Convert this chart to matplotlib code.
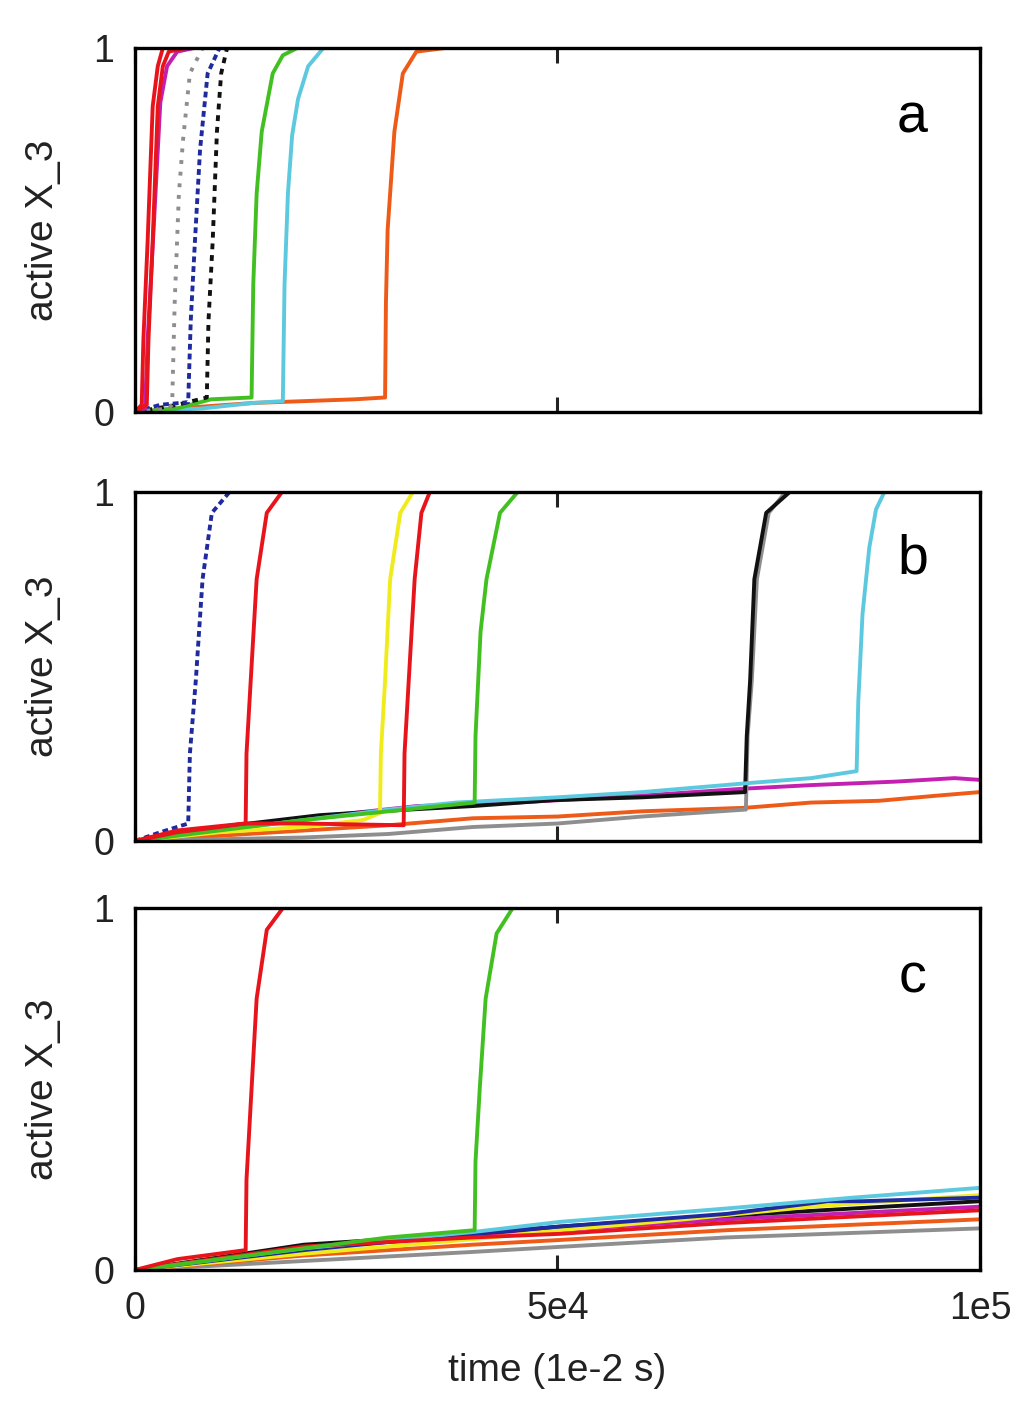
import matplotlib
matplotlib.use("Agg")
import matplotlib.pyplot as plt

plt.rcParams['font.family'] = ['Liberation Sans', 'DejaVu Sans']

# colours of the runs
RED = '#e8141c'
MAGENTA = '#c41fb0'
GRAY = '#8e8e8e'
BLUE = '#1f2a9e'
BLACK = '#111111'
GREEN = '#43c021'
CYAN = '#5cc9df'
ORANGE = '#ee5a17'
YELLOW = '#f0ec1c'

# ---- panel a: runs, time (1e-2 s) and active X_3 ----
a_red1_t = [0, 800, 1000, 1500, 2100, 2700, 3300, 5000]
a_red1_y = [0, 0.02, 0.2, 0.47, 0.84, 0.95, 1.0, 1.0]
a_red2_t = [0, 1400, 1600, 2100, 2700, 3300, 4000, 6000]
a_red2_y = [0, 0.02, 0.2, 0.47, 0.84, 0.95, 0.99, 1.0]
a_mag_t = [0, 1200, 1500, 2200, 3000, 3800, 5000, 7000]
a_mag_y = [0, 0.01, 0.2, 0.5, 0.85, 0.95, 0.99, 1.0]
a_gray_t = [0, 4000, 4400, 4700, 5200, 5700, 6500, 8000]
a_gray_y = [0, 0.01, 0.02, 0.3, 0.6, 0.75, 0.93, 1.0]
a_blue_t = [0, 3000, 6300, 6600, 7100, 7700, 8600, 10000]
a_blue_y = [0, 0.02, 0.027, 0.25, 0.47, 0.72, 0.93, 1.0]
a_black_t = [0, 5000, 8500, 8700, 9200, 9700, 10200, 10900]
a_black_y = [0, 0.02, 0.04, 0.25, 0.47, 0.77, 0.93, 1.0]
a_green_t = [0, 5000, 9000, 13800, 14000, 14400, 15000, 16300, 17500, 19200]
a_green_y = [0, 0.01, 0.035, 0.04, 0.35, 0.6, 0.77, 0.93, 0.98, 1.0]
a_cyan_t = [0, 8000, 14000, 17500, 17700, 18100, 18600, 19300, 20500, 22300]
a_cyan_y = [0, 0.01, 0.025, 0.03, 0.35, 0.6, 0.76, 0.86, 0.95, 1.0]
a_orange_t = [0, 5000, 14000, 20000, 26000, 29600, 29700, 29900, 30700, 31700, 33300, 36700]
a_orange_y = [0, 0.01, 0.025, 0.03, 0.035, 0.04, 0.3, 0.5, 0.77, 0.93, 0.99, 1.0]

# ---- panel b ----
b_orange_t = [0, 10000, 20000, 30000, 40000, 50000, 60000, 72200, 80000, 88000, 95000, 100000]
b_orange_y = [0, 0.015, 0.03, 0.045, 0.065, 0.07, 0.085, 0.095, 0.11, 0.115, 0.13, 0.14]
b_mag_t = [0, 10000, 20000, 33400, 45000, 60000, 72200, 80000, 90000, 97000, 100000]
b_mag_y = [0, 0.035, 0.065, 0.1, 0.11, 0.13, 0.15, 0.16, 0.17, 0.18, 0.175]
b_gray_t = [0, 10000, 20000, 30000, 40000, 50000, 60000, 72300, 72500, 73000, 73600, 75000, 77000]
b_gray_y = [0, 0.005, 0.01, 0.02, 0.04, 0.05, 0.07, 0.09, 0.3, 0.46, 0.75, 0.94, 1.0]
b_black_t = [0, 10000, 21900, 31700, 40000, 49500, 60000, 72200, 72400, 72800, 73300, 74700, 77500]
b_black_y = [0, 0.04, 0.074, 0.089, 0.1, 0.117, 0.125, 0.14, 0.3, 0.46, 0.75, 0.94, 1.0]
b_cyan_t = [0, 10000, 20000, 30000, 38000, 50000, 60000, 72200, 80000, 85400, 85600, 86100, 86900, 87700, 88700]
b_cyan_y = [0, 0.03, 0.06, 0.09, 0.11, 0.125, 0.14, 0.165, 0.18, 0.2, 0.4, 0.65, 0.84, 0.95, 1.0]
b_blue_t = [0, 3000, 6300, 6500, 7200, 8000, 9100, 11200]
b_blue_y = [0, 0.025, 0.05, 0.25, 0.46, 0.75, 0.94, 1.0]
b_red1_t = [0, 5000, 10000, 13100, 13200, 13700, 14400, 15600, 17400]
b_red1_y = [0, 0.025, 0.04, 0.05, 0.25, 0.46, 0.75, 0.94, 1.0]
b_yellow_t = [0, 10000, 20000, 27000, 29000, 29100, 29600, 30200, 31400, 32900]
b_yellow_y = [0, 0.025, 0.04, 0.06, 0.08, 0.25, 0.46, 0.75, 0.94, 1.0]
b_red2_t = [0, 5000, 13000, 20000, 31800, 31900, 32400, 33100, 33900, 34900, 38100]
b_red2_y = [0, 0.03, 0.05, 0.05, 0.045, 0.25, 0.46, 0.75, 0.94, 1.0, 1.0]
b_green_t = [0, 10000, 20000, 30000, 40200, 40300, 40900, 41600, 43200, 45300]
b_green_y = [0, 0.03, 0.06, 0.085, 0.11, 0.3, 0.6, 0.75, 0.94, 1.0]

# ---- panel c ----
c_gray_t = [0, 20000, 40000, 50300, 70000, 100000]
c_gray_y = [0, 0.025, 0.05, 0.064, 0.09, 0.115]
c_orange_t = [0, 20000, 40000, 50300, 70000, 100000]
c_orange_y = [0, 0.04, 0.07, 0.083, 0.11, 0.14]
c_mag_t = [0, 20000, 40000, 50300, 70000, 100000]
c_mag_y = [0, 0.06, 0.095, 0.11, 0.14, 0.175]
c_black_t = [0, 20000, 40000, 50300, 70000, 100000]
c_black_y = [0, 0.07, 0.1, 0.12, 0.15, 0.19]
c_yellow_t = [0, 20000, 40000, 50300, 65000, 80000, 100000]
c_yellow_y = [0, 0.045, 0.085, 0.11, 0.14, 0.175, 0.207]
c_blue_t = [0, 20000, 40000, 50300, 70000, 82000, 86000, 100000]
c_blue_y = [0, 0.055, 0.1, 0.12, 0.155, 0.19, 0.19, 0.2]
c_cyan_t = [0, 20000, 40000, 50300, 70000, 85000, 100000]
c_cyan_y = [0, 0.06, 0.105, 0.133, 0.17, 0.2, 0.227]
c_red_t = [0, 20000, 40000, 50300, 70000, 100000]
c_red_y = [0, 0.065, 0.09, 0.1, 0.13, 0.165]
c_redrise_t = [0, 5000, 13100, 13200, 13700, 14400, 15600, 17500]
c_redrise_y = [0, 0.03, 0.055, 0.25, 0.46, 0.75, 0.94, 1.0]
c_green_t = [0, 10000, 20000, 30000, 40200, 40300, 40800, 41500, 42800, 44700]
c_green_y = [0, 0.03, 0.06, 0.09, 0.11, 0.3, 0.5, 0.75, 0.93, 1.0]

panel_a = [
    (a_orange_t, a_orange_y, ORANGE, '-'),
    (a_cyan_t, a_cyan_y, CYAN, '-'),
    (a_green_t, a_green_y, GREEN, '-'),
    (a_black_t, a_black_y, BLACK, (0, (1.5, 1.5))),
    (a_blue_t, a_blue_y, BLUE, (0, (1.5, 1))),
    (a_gray_t, a_gray_y, GRAY, (0, (1, 2))),
    (a_mag_t, a_mag_y, MAGENTA, '-'),
    (a_red2_t, a_red2_y, RED, '-'),
    (a_red1_t, a_red1_y, RED, '-'),
]
panel_b = [
    (b_orange_t, b_orange_y, ORANGE, '-'),
    (b_mag_t, b_mag_y, MAGENTA, '-'),
    (b_gray_t, b_gray_y, GRAY, '-'),
    (b_black_t, b_black_y, BLACK, '-'),
    (b_cyan_t, b_cyan_y, CYAN, '-'),
    (b_blue_t, b_blue_y, BLUE, (0, (1.5, 1))),
    (b_yellow_t, b_yellow_y, YELLOW, '-'),
    (b_green_t, b_green_y, GREEN, '-'),
    (b_red1_t, b_red1_y, RED, '-'),
    (b_red2_t, b_red2_y, RED, '-'),
]
panel_c = [
    (c_gray_t, c_gray_y, GRAY, '-'),
    (c_orange_t, c_orange_y, ORANGE, '-'),
    (c_mag_t, c_mag_y, MAGENTA, '-'),
    (c_black_t, c_black_y, BLACK, '-'),
    (c_yellow_t, c_yellow_y, YELLOW, '-'),
    (c_blue_t, c_blue_y, BLUE, '-'),
    (c_cyan_t, c_cyan_y, CYAN, '-'),
    (c_red_t, c_red_y, RED, '-'),
    (c_green_t, c_green_y, GREEN, '-'),
    (c_redrise_t, c_redrise_y, RED, '-'),
]

fig = plt.figure(figsize=(10.24, 14.16), dpi=100)
boxes = [
    [0.1318, 0.7090, 0.8252, 0.2571],
    [0.1318, 0.4061, 0.8252, 0.2465],
    [0.1318, 0.1031, 0.8252, 0.2556],
]
letters = ['a', 'b', 'c']

for i, (box, runs, letter) in enumerate(zip(boxes, [panel_a, panel_b, panel_c], letters)):
    ax = fig.add_axes(box)
    for t, y, col, ls in runs:
        ax.plot(t, y, color=col, lw=2.8, ls=ls, solid_joinstyle='round')
    ax.set_xlim(0, 100000)
    ax.set_ylim(0, 1)
    ax.set_yticks([0, 1])
    ax.set_yticklabels(['0', '1'])
    ax.set_xticks([0, 50000, 100000])
    ax.tick_params(direction='in', length=11, width=2.2, top=True, right=False,
                   labelsize=27, pad=15, colors='#222222')
    ax.tick_params(axis='y', length=0)
    if i < 2:
        ax.set_xticklabels([])
    else:
        ax.set_xticklabels(['0', '5e4', '1e5'])
        ax.set_xlabel('time (1e-2 s)', fontsize=28, color='#222222')
        ax.xaxis.set_label_coords(0.5, -0.23)
    for sp in ax.spines.values():
        sp.set_linewidth(2.4)
    ax.set_ylabel('active X_3', fontsize=28, color='#222222')
    ax.yaxis.set_label_coords(-0.087, 0.5)
    ax.text(0.92, 0.805, letter, transform=ax.transAxes, fontsize=40,
            ha='center', va='center')

fig.savefig('out.png', dpi=100)
